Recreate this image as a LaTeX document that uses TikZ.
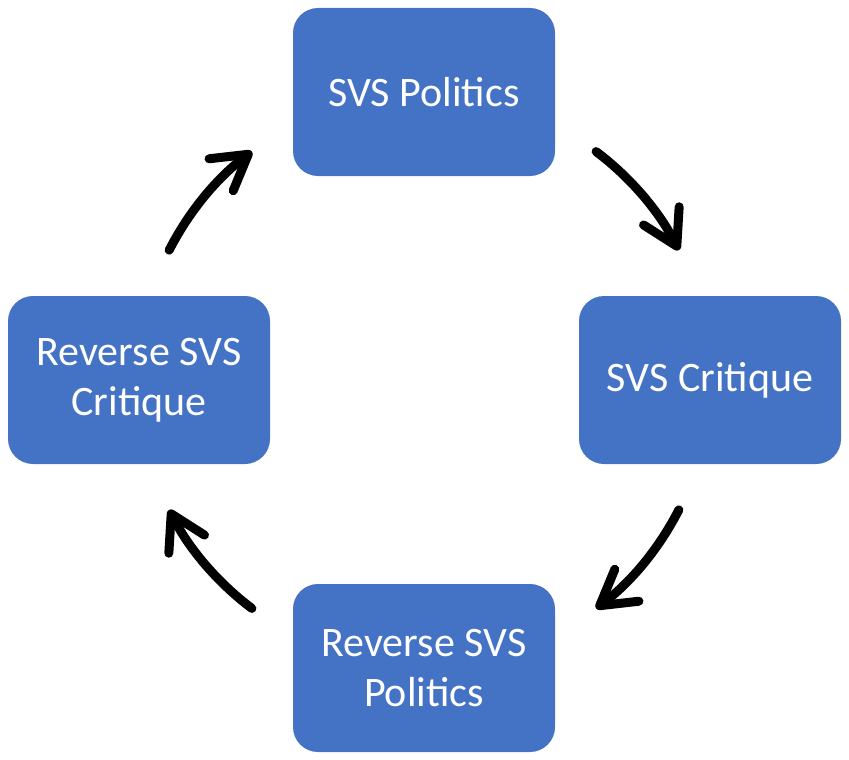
\documentclass[tikz,border=0pt]{standalone}
\usepackage{fontspec}
\setmainfont{Carlito}
\usetikzlibrary{arrows.meta,calc}
\definecolor{BoxBlue}{HTML}{4472C4}
\definecolor{Ink}{HTML}{000000}

\begin{document}
\begin{tikzpicture}[x=1pt,y=-1pt,
    stage/.style={fill=BoxBlue,rounded corners=25pt,minimum width=262pt,minimum height=168pt,
      align=center,text=white,font=\fontsize{42}{50}\selectfont},
    cycarrow/.style={draw=Ink,line width=9pt,line cap=round,
      -{Straight Barb[length=34pt,width=40pt,round]}}]
  \useasboundingbox (0,0) rectangle (849,760);
  \coordinate (mid) at (424,380);
  % the four stages
  \node[stage] (pol) at (424,92) {SVS Politics};
  \node[stage] (crit) at (710,380) {SVS Critique};
  \node[stage] (rpol) at (424,668) {Reverse SVS\\Politics};
  \node[stage] (rcrit) at (139,380) {Reverse SVS\\Critique};
  % arrow start points on a circle round the middle
  \coordinate (s1) at ($(mid)+(53:286pt)$);
  \coordinate (s2) at ($(mid)+(-27:286pt)$);
  \coordinate (s3) at ($(mid)+(-127:286pt)$);
  \coordinate (s4) at ($(mid)+(153:286pt)$);
  \draw[cycarrow] (s1) arc[start angle=53,end angle=27,radius=286pt];
  \draw[cycarrow] (s2) arc[start angle=-27,end angle=-53,radius=286pt];
  \draw[cycarrow] (s3) arc[start angle=-127,end angle=-153,radius=286pt];
  \draw[cycarrow] (s4) arc[start angle=153,end angle=127,radius=286pt];
\end{tikzpicture}
\end{document}
